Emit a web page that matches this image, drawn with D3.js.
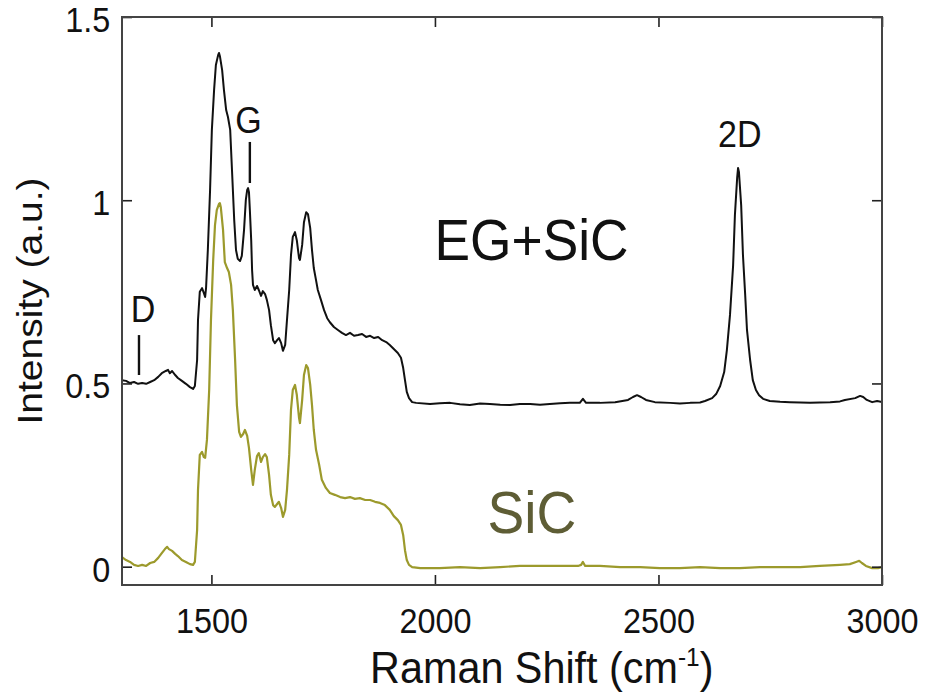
<!DOCTYPE html>
<html>
<head>
<meta charset="utf-8">
<script src="https://cdn.jsdelivr.net/npm/d3@7"></script>
<style>
  body { margin: 0; background: #fff; }
  svg text { font-family: "Liberation Sans", Arial, Helvetica, sans-serif; fill: #111; }
</style>
</head>
<body>
<svg id="chart" width="926" height="697"></svg>
<script>
// Raman spectra: epitaxial graphene on SiC (offset by +0.45) and bare SiC substrate
const egShift = [1300,1309,1318,1327,1336,1345,1354,1363,1372,1381,1389,1398,1403,1407,1412,1419,1425,1434,1443,1452,
  1459,1463,1468,1470,1474,1479,1483,1486,1488,1492,1497,1501,1506,1510,1515,1517,1519,1524,1528,1533,
  1537,1542,1546,1551,1555,1559,1564,1568,1573,1577,1580,1582,1584,1586,1589,1591,1593,1597,1602,1606,
  1611,1615,1620,1624,1629,1633,1638,1642,1647,1651,1656,1660,1665,1669,1674,1678,1682,1687,1691,1696,
  1698,1703,1707,1712,1716,1721,1725,1729,1734,1738,1745,1752,1759,1765,1774,1783,1792,1801,1810,1819,
  1828,1837,1846,1855,1864,1873,1882,1891,1899,1908,1917,1924,1929,1933,1937,1942,1949,1958,1989,2011,
  2034,2056,2078,2101,2123,2146,2168,2190,2213,2235,2257,2280,2302,2324,2331,2338,2369,2403,2432,2443,
  2452,2461,2472,2492,2526,2548,2571,2593,2604,2620,2629,2638,2647,2653,2660,2667,2671,2676,2678,2680,
  2685,2689,2694,2698,2705,2711,2718,2725,2734,2749,2772,2794,2817,2839,2861,2884,2906,2917,2940,2951,
  2958,2966,2978,2989,3000];
const egIntensity = [0.509,0.507,0.501,0.504,0.499,0.501,0.499,0.504,0.509,0.518,0.528,0.534,0.537,0.528,0.534,0.523,0.515,0.507,0.499,0.490,
  0.485,0.493,0.564,0.673,0.750,0.760,0.747,0.736,0.760,0.864,1.028,1.192,1.301,1.369,1.396,1.402,1.393,1.355,1.301,1.246,
  1.227,1.192,1.083,0.946,0.864,0.840,0.834,0.848,0.919,1.001,1.028,1.033,1.022,0.973,0.891,0.809,0.769,0.755,0.766,0.755,
  0.739,0.752,0.744,0.728,0.700,0.659,0.618,0.610,0.618,0.624,0.610,0.589,0.605,0.673,0.755,0.850,0.900,0.913,0.891,0.842,
  0.837,0.878,0.940,0.967,0.962,0.924,0.864,0.815,0.782,0.755,0.728,0.700,0.678,0.667,0.654,0.646,0.638,0.632,0.638,0.630,
  0.632,0.635,0.627,0.630,0.624,0.627,0.618,0.613,0.605,0.594,0.583,0.570,0.542,0.509,0.477,0.460,0.449,0.447,0.444,0.446,
  0.447,0.443,0.441,0.445,0.444,0.442,0.441,0.444,0.444,0.442,0.444,0.446,0.447,0.447,0.458,0.447,0.447,0.449,0.455,0.463,
  0.468,0.463,0.455,0.449,0.447,0.445,0.447,0.448,0.452,0.460,0.471,0.493,0.531,0.591,0.687,0.823,0.960,1.061,1.088,1.077,
  0.986,0.850,0.741,0.646,0.564,0.509,0.482,0.468,0.458,0.452,0.450,0.449,0.448,0.447,0.448,0.449,0.451,0.455,0.460,0.466,
  0.463,0.455,0.449,0.452,0.449];

const sicShift = [1300,1309,1318,1327,1336,1345,1354,1363,1372,1381,1389,1396,1401,1405,1412,1419,1425,1434,1443,1452,
  1459,1463,1468,1470,1474,1479,1483,1486,1490,1495,1499,1504,1508,1512,1517,1519,1521,1526,1530,1535,
  1539,1544,1548,1553,1557,1562,1566,1571,1575,1580,1584,1589,1593,1597,1602,1606,1611,1615,1620,1624,
  1629,1633,1638,1642,1647,1651,1656,1660,1665,1669,1674,1678,1682,1687,1691,1696,1698,1703,1707,1712,
  1716,1721,1725,1729,1734,1741,1747,1756,1765,1776,1788,1799,1810,1821,1832,1844,1855,1866,1877,1888,
  1899,1908,1917,1924,1929,1933,1937,1942,1949,1967,2011,2056,2101,2146,2190,2235,2280,2320,2327,2331,
  2336,2369,2414,2459,2503,2548,2593,2638,2682,2727,2772,2817,2861,2906,2928,2942,2949,2955,2964,2978,
  2991,3000];
const sicIntensity = [0.026,0.018,0.013,0.005,0.002,0.005,0.002,0.010,0.013,0.024,0.037,0.048,0.054,0.048,0.043,0.035,0.029,0.018,0.013,0.007,
  0.005,0.013,0.100,0.209,0.305,0.313,0.299,0.297,0.346,0.482,0.673,0.837,0.932,0.973,0.990,0.992,0.981,0.919,0.831,0.815,
  0.804,0.769,0.700,0.564,0.441,0.368,0.354,0.362,0.373,0.357,0.324,0.264,0.223,0.264,0.302,0.310,0.286,0.299,0.307,0.299,
  0.250,0.196,0.168,0.163,0.171,0.177,0.160,0.136,0.155,0.209,0.305,0.428,0.482,0.496,0.469,0.406,0.392,0.455,0.523,0.550,
  0.542,0.496,0.441,0.373,0.319,0.278,0.237,0.215,0.201,0.196,0.190,0.187,0.190,0.185,0.187,0.182,0.182,0.177,0.174,0.168,
  0.155,0.138,0.127,0.114,0.086,0.045,0.018,0.005,-0.001,-0.004,-0.004,-0.001,-0.004,-0.001,0.002,0.002,0.002,0.002,0.005,0.013,
  0.002,0.002,-0.001,-0.001,-0.004,-0.004,-0.001,-0.004,-0.004,-0.001,-0.001,-0.001,0.002,0.005,0.007,0.013,0.016,0.010,0.002,-0.004,
  -0.004,-0.001];

const xTicks = [1500, 2000, 2500, 3000];
const yTicks = [0, 0.5, 1, 1.5];
const seriesNames = ["EG+SiC", "SiC"];
const peakNames = ["D", "G", "2D"];

const W = 926, H = 697;
const margin = { top: 17, right: 44, bottom: 112, left: 122 };
const svg = d3.select("#chart");

const x = d3.scaleLinear().domain([1300, 3000]).range([margin.left, W - margin.right]);
const y = d3.scaleLinear().domain([-0.05, 1.5]).range([H - margin.bottom, margin.top]);

svg.append("clipPath").attr("id", "plot-clip")
  .append("rect")
  .attr("x", margin.left).attr("y", margin.top)
  .attr("width", W - margin.left - margin.right)
  .attr("height", H - margin.top - margin.bottom);

// spectra
const line = d3.line().x(d => x(d[0])).y(d => y(d[1]));
const eg = d3.zip(egShift, egIntensity);
const sic = d3.zip(sicShift, sicIntensity);

svg.append("path").datum(sic)
  .attr("clip-path", "url(#plot-clip)")
  .attr("fill", "none").attr("stroke", "#9c9a2c").attr("stroke-width", 2.2)
  .attr("stroke-linejoin", "round").attr("d", line);

svg.append("path").datum(eg)
  .attr("clip-path", "url(#plot-clip)")
  .attr("fill", "none").attr("stroke", "#111").attr("stroke-width", 2)
  .attr("stroke-linejoin", "round").attr("d", line);

// axes with inward ticks on all four sides
const tickLen = 10;
const condense = 0.9;
const fmt = d3.format("");

const axisB = svg.append("g").attr("transform", `translate(0,${H - margin.bottom})`)
  .call(d3.axisBottom(x).tickValues(xTicks).tickSize(-tickLen).tickPadding(22).tickFormat(fmt));
const axisT = svg.append("g").attr("transform", `translate(0,${margin.top})`)
  .call(d3.axisTop(x).tickValues(xTicks).tickSize(-tickLen).tickFormat(""));
const axisL = svg.append("g").attr("transform", `translate(${margin.left},0)`)
  .call(d3.axisLeft(y).tickValues(yTicks).tickSize(-tickLen).tickPadding(13).tickFormat(fmt));
const axisR = svg.append("g").attr("transform", `translate(${W - margin.right},0)`)
  .call(d3.axisRight(y).tickValues(yTicks).tickSize(-tickLen).tickFormat(""));

[axisB, axisT, axisL, axisR].forEach(g => {
  g.select(".domain").remove();
  g.selectAll(".tick line").attr("stroke", "#222").attr("stroke-width", 1.6);
});
[axisB, axisL].forEach(g => {
  g.selectAll(".tick text")
    .attr("font-size", 36)
    .attr("fill", "#111")
    .style("font-family", '"Liberation Sans", Arial, Helvetica, sans-serif')
    .attr("transform", `scale(${condense},1)`);
});
axisL.selectAll(".tick text").attr("dy", "0.4em");

// frame
svg.append("rect")
  .attr("x", margin.left).attr("y", margin.top)
  .attr("width", W - margin.left - margin.right)
  .attr("height", H - margin.top - margin.bottom)
  .attr("fill", "none").attr("stroke", "#444").attr("stroke-width", 2);

// axis titles
const xTitle = svg.append("text")
  .attr("text-anchor", "middle")
  .attr("transform", `translate(${x(2239)},683) scale(0.94,1)`)
  .attr("font-size", 44);
xTitle.append("tspan").text("Raman Shift (cm");
xTitle.append("tspan").attr("font-size", 26).attr("dy", -17).text("-1");
xTitle.append("tspan").attr("dy", 17).text(")");

svg.append("text")
  .attr("text-anchor", "middle")
  .attr("transform", `translate(42,301) rotate(-90) scale(1,0.92)`)
  .attr("font-size", 39)
  .text("Intensity (a.u.)");

// series labels
svg.append("text")
  .attr("text-anchor", "middle")
  .attr("transform", `translate(${x(2216)},${y(0.837)}) scale(0.92,1)`)
  .attr("font-size", 58)
  .text(seriesNames[0]);

svg.append("text")
  .attr("text-anchor", "middle")
  .attr("transform", `translate(${x(2217)},${y(0.092)}) scale(0.92,1)`)
  .attr("font-size", 60)
  .style("fill", "#5e5d35")
  .text(seriesNames[1]);

// peak labels with tick markers
const peakLabelAt = [[1347, 0.667], [1583, 1.183], [2682, 1.145]];
const peakMarkAt = [[1338, 0.632, 0.523], [1586, 1.159, 1.047], null];
peakNames.forEach((name, i) => {
  svg.append("text")
    .attr("text-anchor", "middle")
    .attr("transform", `translate(${x(peakLabelAt[i][0])},${y(peakLabelAt[i][1])}) scale(0.92,1)`)
    .attr("font-size", 37)
    .text(name);
  const m = peakMarkAt[i];
  if (m) {
    svg.append("line")
      .attr("x1", x(m[0])).attr("x2", x(m[0]))
      .attr("y1", y(m[1])).attr("y2", y(m[2]))
      .attr("stroke", "#111").attr("stroke-width", 2.4);
  }
});
</script>
</body>
</html>
